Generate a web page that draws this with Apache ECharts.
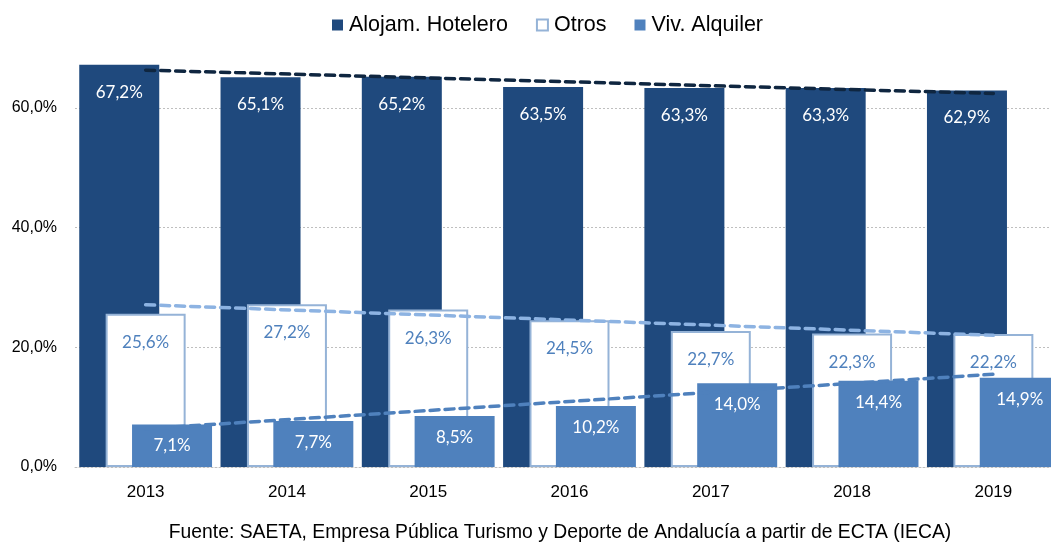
<!DOCTYPE html>
<html>
<head>
<meta charset="utf-8">
<script src="https://cdn.jsdelivr.net/npm/echarts@6/dist/echarts.min.js"></script>
<style>html,body{margin:0;padding:0;background:#fff}#c{width:1051px;height:545px}</style>
</head>
<body>
<div id="c"></div>
<script>
const years = ['2013','2014','2015','2016','2017','2018','2019'];
const hotelero = [67.2, 65.1, 65.2, 63.5, 63.3, 63.3, 62.9];
const otros = [25.6, 27.2, 26.3, 24.5, 22.7, 22.3, 22.2];
const alquiler = [7.1, 7.7, 8.5, 10.2, 14.0, 14.4, 14.9];
// trend line endpoints (first and last category)
const hoteleroTrend = [66.3, null, null, null, null, null, 62.4];
const otrosTrend = [27.1, null, null, null, null, null, 22.0];
const alquilerTrend = [6.4, null, null, null, null, null, 15.5];
const yTicks = ['0,0%', '20,0%', '40,0%', '60,0%'];
const source = 'Fuente: SAETA, Empresa Pública Turismo y Deporte de Andalucía a partir de ECTA (IECA)';

const fmt = p => p.value.toFixed(1).replace('.', ',') + '%';
const NAVY = '#1F497D', MID = '#4F81BD', LIGHT = '#95B3D7';
const labelFont = 'Lato, "Open Sans", sans-serif';
const sansFont = '"Liberation Sans", Arial, sans-serif';

const chart = echarts.init(document.getElementById('c'));
chart.setOption({
  animation: false,
  legend: {
    top: 9, left: 327,
    itemWidth: 11, itemHeight: 11, itemGap: 28,
    textStyle: { fontFamily: sansFont, fontSize: 21.5, color: '#000', padding: [0, 0, 0, 1] },
    data: [
      { name: 'Alojam. Hotelero', icon: 'rect' },
      { name: 'Otros', icon: 'rect', itemStyle: { color: '#fff', borderColor: LIGHT, borderWidth: 2 } },
      { name: 'Viv. Alquiler', icon: 'rect' }
    ]
  },
  grid: { left: 75, width: 989, top: 48, bottom: 78, outerBoundsMode: 'none', containLabel: false },
  xAxis: {
    type: 'category', data: years,
    axisLine: { show: true, lineStyle: { color: '#BFBFBF', type: [2, 2], width: 1 } },
    axisTick: { show: false },
    axisLabel: { color: '#000', fontSize: 17, fontFamily: sansFont, margin: 17 }
  },
  yAxis: {
    type: 'value', min: 0, max: 70, interval: 20,
    axisLine: { show: false }, axisTick: { show: false },
    axisLabel: {
      showMaxLabel: false, color: '#000', fontSize: 16, margin: 18,
      fontFamily: sansFont,
      formatter: v => yTicks[v / 20] || ''
    },
    splitLine: { show: true, showMaxLine: false, lineStyle: { color: '#BFBFBF', type: [2, 2], width: 1 } }
  },
  series: [
    {
      name: 'Alojam. Hotelero', type: 'bar', data: hotelero, barWidth: 80, barGap: '-67%',
      itemStyle: { color: NAVY },
      label: { show: true, position: 'insideTop', distance: 19, color: '#fff', fontSize: 17, fontFamily: labelFont, formatter: fmt }
    },
    {
      name: 'Otros', type: 'bar', data: otros, barWidth: 80, barGap: '-67%',
      itemStyle: { color: '#fff', borderColor: LIGHT, borderWidth: 2 },
      label: { show: true, position: 'insideTop', distance: 20, color: MID, fontSize: 17, fontFamily: labelFont, formatter: fmt }
    },
    {
      name: 'Viv. Alquiler', type: 'bar', data: alquiler, barWidth: 80, barGap: '-67%',
      itemStyle: { color: MID },
      label: { show: true, position: 'insideTop', distance: 13, color: '#fff', fontSize: 17, fontFamily: labelFont, formatter: fmt }
    },
    {
      type: 'line', data: hoteleroTrend, connectNulls: true, symbol: 'none', z: 5, silent: true,
      lineStyle: { color: '#0F2640', width: 3.5, type: [9, 6], cap: 'round' }
    },
    {
      type: 'line', data: otrosTrend, connectNulls: true, symbol: 'none', z: 5, silent: true,
      lineStyle: { color: '#8DB3E2', width: 3.5, type: [9, 6], cap: 'round' }
    },
    {
      type: 'line', data: alquilerTrend, connectNulls: true, symbol: 'none', z: 5, silent: true,
      lineStyle: { color: MID, width: 3.5, type: [9, 6], cap: 'round' }
    }
  ],
  graphic: [{
    type: 'text', x: 560, y: 532, scaleX: 0.92,
    style: { text: source, x: 0, y: 0, align: 'center', verticalAlign: 'middle', fontSize: 21, fill: '#000', fontFamily: sansFont }
  }]
});
</script>
</body>
</html>
